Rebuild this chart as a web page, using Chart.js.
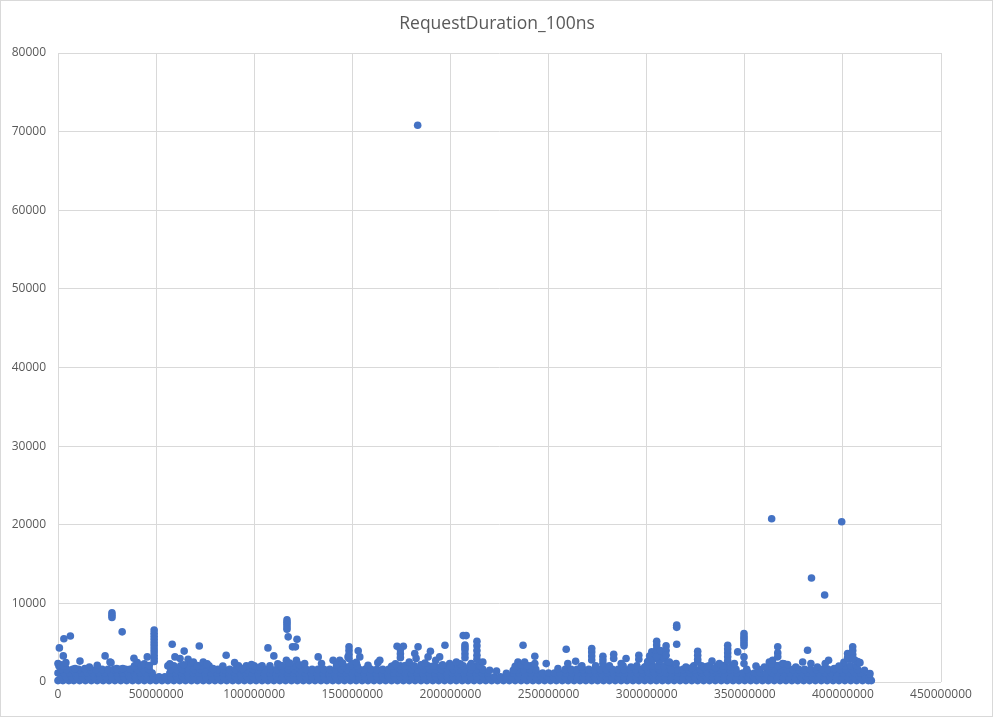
<!DOCTYPE html>
<html>
<head>
<meta charset="utf-8">
<script src="https://cdn.jsdelivr.net/npm/chart.js@4.4.1/dist/chart.umd.min.js"></script>
<style>
  html, body { margin: 0; padding: 0; background: #ffffff; }
  #wrap { width: 994px; height: 719px; }
</style>
</head>
<body>
<div id="wrap"><canvas id="c" width="994" height="719"></canvas></div>
<script>
// ---------- DATA (x in millions, y in 100ns units) ----------
const chartTitle = "RequestDuration_100ns";
const xTicks = [0, 50000000, 100000000, 150000000, 200000000, 250000000, 300000000, 350000000, 400000000, 450000000];
const yTicks = [0, 10000, 20000, 30000, 40000, 50000, 60000, 70000, 80000];

// dense band, bottom row
const bandRow1Y = 180;
const bandRow1X = [0,2.5,5.5,8,11,14,17,20,23,26,29,32,35,38,41,44,47,50,53,56,59,62,65,68,71,74,77,80,83,86,89,92,95,98,101,104,107,110,113,116,119,122,125,128,131,134,137,140,143,146,149,152,155,158,161,164,167,170,173,176,179,182,185,188,191,194,197,200,203,206,209,212,215,218,221,224,227,230,233,236,239,242,245,248,251,254,257,260,263,266,269,272,275,278,281,284,287,290,293,296,299,302,305,308,311,314,317,320,323,326,329,332,335,338,341,344,347,350,353,356,359,362,365,368,371,374,377,380,383,386,389,392,395,398,401,404,407,410,413,414.5];

// dense band, second row
const bandRow2Y = 650;
const bandRow2X = [1.5,4,7,9.5,12.5,15.5,18.5,21.5,24.5,27.5,30.5,33.5,36.5,39.5,42.5,45.5,48.5,51.5,54.5,57.5,60.5,63.5,66.5,69.5,72.5,75.5,78.5,81.5,84.5,87.5,90.5,93.5,96.5,99.5,102.5,105.5,108.5,111.5,114.5,117.5,120.5,123.5,126.5,129.5,132.5,135.5,138.5,141.5,144.5,147.5,150.5,153.5,156.5,159.5,162.5,165.5,168.5,171.5,174.5,177.5,180.5,183.5,186.5,189.5,192.5,195.5,198.5,201.5,204.5,207.5,210.5,213.5,216.5,219.5,222.5,225.5,228.5,231.5,234.5,237.5,240.5,243.5,246.5,249.5,252.5,255.5,258.5,261.5,264.5,267.5,270.5,273.5,276.5,279.5,282.5,285.5,288.5,291.5,294.5,297.5,300.5,303.5,306.5,309.5,312.5,315.5,318.5,321.5,324.5,327.5,330.5,333.5,336.5,339.5,342.5,345.5,348.5,351.5,354.5,357.5,360.5,363.5,366.5,369.5,372.5,375.5,378.5,381.5,384.5,387.5,390.5,393.5,396.5,399.5,402.5,405.5,408.5,411.5,413.5];

// dense band, third row
const bandRow3Y = 1150;
const bandRow3X = [0,3,6,9,12,15,18,21,24,27,30,33,36,39,42,45,48,57,60,63,66,69,72,75,78,81,84,87,90,93,96,99,102,105,108,111,114,117,120,123,126,129,132,135,138,141,144,147,150,153,156,159,162,165,168,171,174,177,180,183,186,189,192,195,198,201,204,207,210,213,216,219,232,235,238,241,244,247,250,253,256,259,262,265,268,271,274,277,280,283,286,289,292,295,298,301,304,307,310,313,316,319,322,325,328,331,334,337,340,343,346,349,352,355,358,361,364,367,370,373,376,379,382,385,388,391,394,397,400,403,406,409];

// fourth row, with gaps where the band is lower
const bandRow4Y = 1600;
const bandRow4X = [1.5,4.5,7.5,10.5,13.5,16.5,19.5,22.5,25.5,28.5,31.5,34.5,37.5,40.5,43.5,46.5,57.5,60.5,63.5,66.5,69.5,72.5,75.5,78.5,81.5,84.5,87.5,90.5,93.5,96.5,99.5,102.5,105.5,108.5,111.5,114.5,117.5,120.5,123.5,126.5,129.5,132.5,135.5,138.5,141.5,144.5,147.5,150.5,153.5,156.5,159.5,162.5,165.5,168.5,171.5,174.5,177.5,180.5,183.5,186.5,189.5,192.5,195.5,198.5,201.5,204.5,207.5,210.5,213.5,216.5,234.5,237.5,240.5,243.5,258.5,261.5,264.5,267.5,270.5,273.5,276.5,279.5,282.5,285.5,288.5,291.5,294.5,297.5,300.5,303.5,306.5,309.5,312.5,315.5,318.5,321.5,324.5,327.5,330.5,333.5,336.5,339.5,342.5,345.5,351,357,362.5,365.5,368.5,371.5,374.5,377.5,380.5,383.5,386.5,389.5,392.5,395.5,398.5,401.5,404.5,407.5];

// fifth row, only where the band rises higher
const bandRow5Y = 2050;
const bandRow5X = [0.5,3.5,39,42,45.5,56,59,62.5,66,69.5,73,77,92,96,100,104,108,113,117,120.5,124,142,145.5,149,152.5,171,174.5,178,181.5,185,188.5,192,195.5,199,203,206.5,210,213.5,234,237.5,241,267,274,281,288,295,300,303,306,309,312,324,328,332,336,340,344,363,366.5,370,401,404,407];

// single marks standing above the band
const bumpX = [0,1.5,3,4,8.7,13.7,16,20,26.5,27,29.9,33,36.7,39,40.4,42.6,44,46.5,57,59.6,62.2,64,66.3,68,69,71,74,75.7,76,79,84,90,94,98.6,102.9,112,114,116.4,118,121.5,123,125.7,132.6,134.3,140.2,142,143.6,145,147.8,150,152,153.8,158,163,
  170,172,177,179,185,187,191,196,199.6,200,205,210.6,211,215,220,223.5,228.5,232,233,234.4,236,237.8,239,243,254.8,259.8,266.6,277.7,287,292,299,
  300.5,301.5,303.5,304,306.5,307.4,307.5,309,311,311.6,312.5,315,320,323,326,329.4,331,335,339,343,344.7,349.6,360,362.5,364,367,369.3,370,376,387,395.6,
  400.5,403,404,406,407.5,411];
const bumpY = [2340,2200,2000,2460,1700,1700,1910,2130,2550,2460,1700,1700,1620,2000,2460,2130,2300,2100,2300,3190,2980,2200,2890,2400,2550,2100,2550,2130,2300,1700,2040,2460,1700,2210,1910,2300,2100,2760,2400,2760,2200,2340,3190,2340,2760,2200,2760,2400,3190,2300,2500,3190,2130,2460,
  2000,2300,2100,2550,2200,2400,2000,2200,2340,2000,2300,2340,1900,2100,1490,1400,1110,1490,2000,2550,2200,2550,2100,2340,1700,2340,1910,2340,2340,1910,1910,
  2600,3300,2900,3500,2700,2980,3300,3000,2500,2550,1490,2340,1910,1800,2550,1910,2000,1800,2100,1900,2340,2340,1910,2550,2300,2100,2340,2300,1910,1910,1700,
  2500,2900,3300,2800,2600,1490];

// individual peaks and short columns above the band
const peakX = [27.5,27.5,27.5,32.7,49,49,49,49,49,49,49,49,49,49,49,0.7,3,6.3,2.7,11.2,24,38.7,45.5,58.2,64.3,72,
  85.7,107,110,116.7,116.7,116.7,116.7,116.7,117.3,119.5,121,121.8,
  148.3,148.3,148.3,148.3,153,164,172.8,176,174.5,174.5,174.5,183.5,181.8,182.5,189.8,188.6,194.5,192.5,197.2,203,
  206.5,208,207.4,207.4,207.4,207.4,207.4,213.5,213.5,213.5,213.5,213.5,216.5,
  237,243,248.8,259,263.8,272,272,272,272,277.7,277.7,283.2,283.2,289.5,296,296,302.6,302.6,302.6,305.1,305.1,305.1,305.1,305.1,307,309.9,309.9,309.9,
  315.3,315.3,315.3,326,326,326,333.3,337,341.3,341.3,341.3,341.3,341.3,346.4,349.6,349.6,349.6,349.6,349.6,349.6,349.6,
  355.7,364.2,366.8,366.8,366.8,371.8,379.5,382,383.7,391,392.7,398,402.4,402.4,405,405,405,405,408.7,413.8];
const peakY = [8800,8500,8200,6380,6600,6200,5800,5400,5000,4600,4200,3800,3400,3000,2600,4340,5510,5850,3320,2660,3320,3020,3190,4810,3930,4570,
  3400,4340,3320,7900,7600,7300,7000,6700,5740,4470,4470,5440,
  4470,4000,3500,3000,3960,2760,4550,4550,4100,3600,3100,4470,3620,3000,3910,3190,3190,2760,4680,2550,
  5900,5900,4700,4400,4100,3600,3100,5190,4600,4000,3400,2900,2550,
  4680,3280,2340,4170,2640,4250,3800,3300,2800,3280,2800,3530,3000,2980,3400,2900,3830,3300,2800,5190,4700,4200,3700,3200,4000,4590,4000,3400,
  7230,6950,4810,3910,3400,2900,2680,2340,4680,4200,3700,3200,2700,3830,6160,5800,5500,5200,4900,4600,3190,
  2040,2760,4470,3700,3200,2210,2550,4040,2340,2340,2760,2040,3620,3100,4470,4000,3500,3000,2460,1060];

// far outliers
const outlierX = [183.3, 363.7, 399.4, 384, 390.7];
const outlierY = [70820, 20760, 20380, 13230, 11060];

// ---------- BUILD ----------
const M = 1000000;
function rowPoints(xs, y) { return xs.map(x => ({ x: x * M, y: y })); }
function pairPoints(xs, ys) { return xs.map((x, i) => ({ x: x * M, y: ys[i] })); }

const allPoints = []
  .concat(rowPoints(bandRow1X, bandRow1Y))
  .concat(rowPoints(bandRow2X, bandRow2Y))
  .concat(rowPoints(bandRow3X, bandRow3Y))
  .concat(rowPoints(bandRow4X, bandRow4Y))
  .concat(rowPoints(bandRow5X, bandRow5Y))
  .concat(pairPoints(bumpX, bumpY))
  .concat(pairPoints(peakX, peakY))
  .concat(pairPoints(outlierX, outlierY));

const TEXT = '#595959';
const GRID = '#d9d9d9';
const BLUE = '#4472C4';

const frame = {
  id: 'frame',
  beforeDraw(chart) {
    const ctx = chart.ctx;
    ctx.save();
    ctx.fillStyle = '#ffffff';
    ctx.fillRect(0, 0, chart.width, chart.height);
    ctx.restore();
  },
  afterDraw(chart) {
    const ctx = chart.ctx;
    ctx.save();
    ctx.strokeStyle = GRID;
    ctx.lineWidth = 1;
    ctx.strokeRect(0.5, 0.5, chart.width - 2, chart.height - 3);
    ctx.fillStyle = TEXT;
    ctx.font = '17.5px "Open Sans"';
    ctx.textAlign = 'center';
    ctx.textBaseline = 'middle';
    ctx.fillText(chartTitle, 497, 24);
    ctx.restore();
  }
};

new Chart(document.getElementById('c'), {
  type: 'scatter',
  data: {
    datasets: [{
      data: allPoints,
      backgroundColor: BLUE,
      borderColor: BLUE,
      borderWidth: 0,
      pointRadius: 3.8,
      pointHoverRadius: 3.8,
      clip: false
    }]
  },
  options: {
    responsive: false,
    animation: false,
    devicePixelRatio: 1,
    layout: { padding: { left: 0, right: 53, top: 53, bottom: 0 } },
    plugins: { legend: { display: false }, tooltip: { enabled: false }, title: { display: false } },
    scales: {
      x: {
        type: 'linear',
        min: 0, max: 450000000,
        afterBuildTicks(scale) { scale.ticks = xTicks.map(v => ({ value: v })); },
        afterFit(scale) { scale.height = 37; },
        grid: { color: GRID, drawTicks: false },
        border: { display: false },
        ticks: { color: TEXT, font: { family: 'Open Sans', size: 12 }, padding: 5, maxRotation: 0, autoSkip: false, callback: v => String(v) }
      },
      y: {
        type: 'linear',
        min: 0, max: 80000,
        afterBuildTicks(scale) { scale.ticks = yTicks.map(v => ({ value: v })); },
        afterFit(scale) { scale.width = 58; },
        grid: { color: GRID, drawTicks: false },
        border: { display: false },
        ticks: { color: TEXT, font: { family: 'Open Sans', size: 12 }, padding: 12, autoSkip: false, callback: v => String(v) }
      }
    }
  },
  plugins: [frame]
});
</script>
</body>
</html>
